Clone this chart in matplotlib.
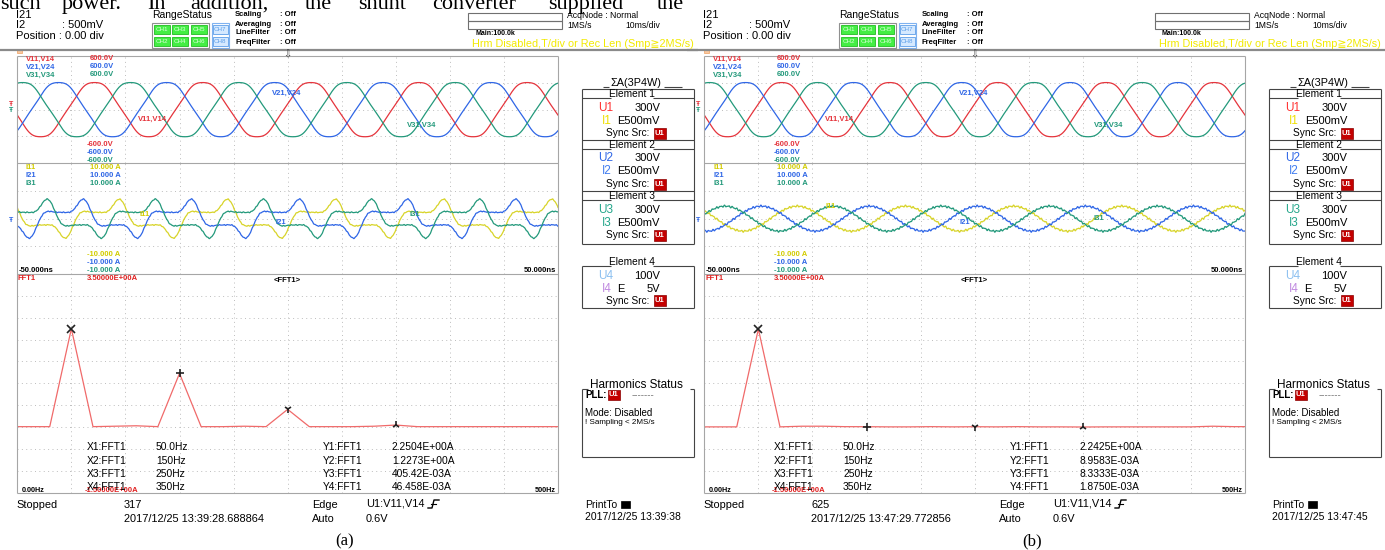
import numpy as np
import matplotlib
matplotlib.use("Agg")
import matplotlib.pyplot as plt
from matplotlib.patches import Rectangle

W, H = 1385, 550
DX = 687  # screenshot (b) sits 687 px right of (a)

# -----------------------------
# data
# -----------------------------
caption = ["(a)", "(b)"]
record_no = ["317", "625"]
stamp = ["2017/12/25 13:39:28.688864", "2017/12/25 13:47:29.772856"]
print_stamp = ["2017/12/25 13:39:38", "2017/12/25 13:47:45"]

# FFT1 cursors
cursor_freq = [50, 150, 250, 350]
cursor_freq_lbl = ["50.0Hz", "150Hz", "250Hz", "350Hz"]
cursor_amp = [[2.2504, 1.2273, 0.40542, 0.046458],
              [2.2425, 8.9583e-3, 8.3333e-3, 1.8750e-3]]
cursor_lbl = [["2.2504E+00A", "1.2273E+00A", "405.42E-03A", "46.458E-03A"],
              ["2.2425E+00A", "8.9583E-03A", "8.3333E-03A", "1.8750E-03A"]]

# FFT1 trace (A) at the display bins (Hz)
fft_freq = [0, 10, 30, 50, 70, 90, 110, 130, 150, 170, 190, 210, 230, 250,
            270, 290, 310, 330, 350, 370, 390, 410, 430, 450, 470, 490, 500]
fft_amp_a = [0.01, 0.01, 0.01, 2.2504, 0.01, 0.02, 0.03, 0.01, 1.2273, 0.01,
             0.01, 0.02, 0.01, 0.40542, 0.01, 0.01, 0.01, 0.02, 0.046458,
             0.01, 0.01, 0.01, 0.01, 0.01, 0.01, 0.01, 0.01]
fft_amp_b = [0.005, 0.005, 0.005, 2.2425, 0.005, 0.02, 0.02, 0.01, 0.009,
             0.005, 0.005, 0.01, 0.005, 0.0083, 0.005, 0.01, 0.005, 0.005,
             0.0019, 0.005, 0.005, 0.005, 0.005, 0.005, 0.02, 0.01, 0.01]
fft_amp = [fft_amp_a, fft_amp_b]

# phases 1/2/3 (phase 2 peaks 1/3 cycle earlier, phase 3 later)
v_names = ["V11,V14", "V21,V24", "V31,V34"]
i_names = ["I11", "I21", "I31"]
phase_delay_ms = [0.0, -6.67, 6.67]

# supply voltage: 311 V peak, slightly flat-topped, first V11 crest at -35.7 ms
v_order = [1, 5]
v_amp = [311.0, 8.0]
v_phase_deg = [0, 180]
v1_peak_ms = -35.7

# currents from the FFT1 harmonics (50/150/250/350 Hz); phases from trace shape
i_order = [1, 3, 5, 7]
i_phase_deg = [[36, 4, -11, 0], [0, 0, 0, 0]]
i1_peak_ms = [-31.0, -32.8]
ripple_order = [27, 43]
ripple_amp = [[0.05, 0.04], [0.11, 0.08]]

# in-screen trace labels (x, y) relative to each screenshot
v_lbl_pos = [(138, 119), (272, 93), (407, 125)]
i_lbl_pos = [[(140, 214), (275, 222), (409, 215)],
             [(138, 207), (272, 223), (406, 218)]]

t_ms = np.linspace(-50, 50, 2001)

V_COL = ["#e5343c", "#2f66e6", "#23997b"]
I_COL = ["#d8d42a", "#2f66e6", "#23997b"]
LBL_I = ["#d2cc00", "#2f66e6", "#23997b"]
FFT_COL = "#f06a6a"
GRID = "#bdbdbd"
SANS = ["Liberation Sans", "DejaVu Sans"]
SERIF = ["Liberation Serif", "DejaVu Serif"]


def wave(t, t0, orders, amps, phases):
    th = 2 * np.pi * 0.05 * (t - t0)  # 50 Hz, t in ms
    return sum(a * np.cos(n * th + np.radians(p)) for n, a, p in zip(orders, amps, phases))


fig = plt.figure(figsize=(W / 100, H / 100), dpi=100)
cv = fig.add_axes([0, 0, 1, 1])
cv.set_xlim(0, W)
cv.set_ylim(H, 0)
cv.axis("off")
cv.set_zorder(5)
cv.patch.set_alpha(0)


def txt(x, y, s, size=6, color="black", ha="left", va="center", weight="normal", family=SANS, **kw):
    cv.text(x, y, s, fontsize=size, color=color, ha=ha, va=va, fontweight=weight, family=family, **kw)


def line(x0, y0, x1, y1, c="#a6a6a6", lw=0.8):
    cv.plot([x0, x1], [y0, y1], color=c, lw=lw, solid_capstyle="butt")


def box(x0, y0, x1, y1, ec="#555555", fc="none", lw=0.8):
    cv.add_patch(Rectangle((x0, y0), x1 - x0, y1 - y0, ec=ec, fc=fc, lw=lw))


def inset(x0, y0, x1, y1):
    ax = fig.add_axes([x0 / W, 1 - y1 / H, (x1 - x0) / W, (y1 - y0) / H])
    ax.set_facecolor("none")
    for s in ax.spines.values():
        s.set_visible(False)
    ax.set_xticks([])
    ax.set_yticks([])
    return ax


def dot_grid(ax, xs, ys):
    for x in xs:
        ax.axvline(x, color=GRID, lw=0.7, ls=(0, (1, 3.5)))
    for y in ys:
        ax.axhline(y, color=GRID, lw=0.7, ls=(0, (1, 3.5)))


# cropped line of the paper above the figure
words = ["such", "power.", "In", "addition,", "the", "shunt", "converter", "supplied", "the"]
word_x = [0, 62, 147, 190, 305, 358, 432, 548, 657]
for w, x in zip(words, word_x):
    txt(x, 9, w, 16, va="baseline", family=SERIF)


def element_title(ox, yc, s):
    txt(ox + 632, yc, s, 7.3, ha="center")
    line(ox + 581.7, yc + 4, ox + 611, yc + 4, c="#444444")
    line(ox + 653, yc + 4, ox + 694, yc + 4, c="#444444")


def sync_row(ox, y):
    txt(ox + 606, y, "Sync Src:", 7.3)
    box(ox + 653.5, y - 5.5, ox + 666, y + 5.5, ec="#8a0000", fc="#c40000", lw=0.5)
    txt(ox + 659.7, y, "U1", 5.5, color="white", ha="center", weight="bold")


def draw_screen(k):
    ox = k * DX
    L, R, TOP, S1, S2, BOT = ox + 17.3, ox + 558, 56, 163.3, 274, 492.7

    # ---- header ----
    txt(ox + 16, 14.5, "I21", 8)
    txt(ox + 16, 25, "I2", 8)
    txt(ox + 62, 25, ": 500mV", 8)
    txt(ox + 16, 36, "Position : 0.00 div", 8)
    txt(ox + 152, 15, "RangeStatus", 7.5)
    box(ox + 151.5, 22.5, ox + 209, 48, ec="#909090")
    for j, ch in enumerate(["CH1", "CH3", "CH5", "CH2", "CH4", "CH6"]):
        cx = ox + 153.5 + (j % 3) * 18.5
        cy = 25 + (j // 3) * 12
        box(cx, cy, cx + 16, cy + 9, ec="#22bb22", fc="#44ee44", lw=0.6)
        txt(cx + 8, cy + 4.5, ch, 4.5, color="#dcffdc", ha="center")
    box(ox + 211.5, 22.5, ox + 229, 48, ec="#7fb2f0")
    for j, ch in enumerate(["CH7", "CH8"]):
        cy = 25 + j * 12
        box(ox + 213, cy, ox + 227.5, cy + 9, ec="#5c9ee8", fc="#d5e9ff", lw=0.6)
        txt(ox + 220.2, cy + 4.5, ch, 4.5, color="#5c9ee8", ha="center")
    for j, s in enumerate(["Scaling", "Averaging", "LineFilter", "FreqFilter"]):
        txt(ox + 235, 15 + 9 * j, s, 5.5, weight="bold")
        txt(ox + 280, 15 + 9 * j, ": Off", 5.5, weight="bold")
    box(ox + 468, 12.5, ox + 562, 20.5, ec="#707070")
    box(ox + 468, 20.5, ox + 562, 28.5, ec="#707070")
    txt(ox + 475, 33.5, "Main:100.0k", 5, weight="bold")
    txt(ox + 567, 15, "AcqNode : Normal", 6.2)
    txt(ox + 567, 26, "1MS/s", 6.2)
    txt(ox + 625, 26, "10ms/div", 6.2)
    txt(ox + 472, 44, "Hrm Disabled,T/div or Rec Len (Smp\u22672MS/s)", 7.8, color="#f2ea00")
    line(ox + 0, 50, ox + 698, 50, c="#8a8a8a", lw=1.6)
    box(ox + 17, 48.5, ox + 21.5, 53, ec="#f0a060", fc="#f8c8a0", lw=0.5)
    txt(ox + 287.5, 54, "\u21e9", 7, color="#444444", ha="center", family=["DejaVu Sans"])

    # ---- screen frame ----
    for a, b, c, d in [(L, TOP, R, TOP), (L, TOP, L, BOT), (R, TOP, R, BOT),
                       (L, BOT, R, BOT), (L, S1, R, S1), (L, S2, R, S2)]:
        line(a, b, c, d)

    # ---- voltage window ----
    axv = inset(L, TOP, R, S1)
    axv.set_xlim(-50, 50)
    axv.set_ylim(-600, 600)
    dot_grid(axv, range(-40, 50, 10), [-300, 0, 300])
    for p in range(3):
        axv.plot(t_ms, wave(t_ms, v1_peak_ms + phase_delay_ms[p], v_order, v_amp, v_phase_deg),
                 color=V_COL[p], lw=0.9)

    # ---- current window ----
    axi = inset(L, S1, R, S2)
    axi.set_xlim(-50, 50)
    axi.set_ylim(-10, 10)
    dot_grid(axi, range(-40, 50, 10), [-5, 0, 5])
    for p in range(3):
        t0 = i1_peak_ms[k] + phase_delay_ms[p]
        i = wave(t_ms, t0, i_order, cursor_amp[k], i_phase_deg[k])
        i = i + wave(t_ms, t0, ripple_order, ripple_amp[k], [30 * p, 60 * p])
        axi.plot(t_ms, i, color=I_COL[p], lw=0.9)

    # ---- FFT window ----
    axf = inset(L, S2, R, BOT)
    axf.set_xlim(0, 500)
    axf.set_ylim(-1.5, 3.5)
    dot_grid(axf, range(50, 500, 50), np.arange(-1.0, 3.5, 0.5))
    axf.plot(fft_freq, fft_amp[k], color=FFT_COL, lw=0.9)
    for f, a, m in zip(cursor_freq, cursor_amp[k], ["x", "+", "1", "2"]):
        axf.plot(f, a, marker=m, color="#222222", ms=6, mew=1.2, ls="none")

    # ---- screen texts ----
    for p in range(3):
        txt(ox + 26, 59 + 8 * p, v_names[p], 5.5, color=V_COL[p], weight="bold")
        txt(ox + 90, 59 + 8 * p, "600.0V", 5.5, color=V_COL[p], weight="bold")
        txt(ox + 87, 144.5 + 8 * p, "-600.0V", 5.5, color=V_COL[p], weight="bold")
        txt(ox + 26, 167.5 + 8 * p, i_names[p], 5.5, color=LBL_I[p], weight="bold")
        txt(ox + 90, 167.5 + 8 * p, "10.000 A", 5.5, color=LBL_I[p], weight="bold")
        txt(ox + 87, 255 + 8 * p, "-10.000 A", 5.5, color=LBL_I[p], weight="bold")
        vx, vy = v_lbl_pos[p]
        txt(ox + vx, vy, v_names[p], 5.5, color=V_COL[p], weight="bold")
        ix, iy = i_lbl_pos[k][p]
        txt(ox + ix, iy, i_names[p], 5.5, color=LBL_I[p], weight="bold")
    txt(ox + 9, 104, "\u0166", 5, color=V_COL[0], weight="bold")
    txt(ox + 9, 110, "\u0166", 5, color=V_COL[2], weight="bold")
    txt(ox + 9, 220, "\u0166", 5, color=I_COL[1], weight="bold")
    txt(ox + 19, 271, "-50.000ns", 5.5, weight="bold")
    txt(ox + 556, 271, "50.000ns", 5.5, weight="bold", ha="right")
    txt(ox + 18, 279, "FFT1", 5.5, color="#e02020", weight="bold")
    txt(ox + 87, 279, "3.50000E+00A", 5.5, color="#e02020", weight="bold")
    txt(ox + 287, 281, "<FFT1>", 5.5, ha="center", weight="bold")
    txt(ox + 22, 490, "0.00Hz", 5.2, weight="bold")
    txt(ox + 556, 490, "500Hz", 5.2, weight="bold", ha="right")
    txt(ox + 85, 491, "-1.50000E+00A", 5.5, color="#e02020", weight="bold")
    for j in range(4):
        y = [446.7, 460.5, 474, 487.5][j]
        txt(ox + 87, y, f"X{j + 1}:FFT1", 7.4)
        txt(ox + 156, y, cursor_freq_lbl[j], 7.4)
        txt(ox + 322.7, y, f"Y{j + 1}:FFT1", 7.4)
        txt(ox + 392, y, cursor_lbl[k][j], 7.4)

    # ---- status line ----
    txt(ox + 16, 505, "Stopped", 7.9)
    txt(ox + 124, 505, record_no[k], 7.9)
    txt(ox + 124, 518.5, stamp[k], 7.9)
    txt(ox + 312, 505, "Edge", 7.9)
    txt(ox + 312, 518.5, "Auto", 7.9)
    txt(ox + 366, 504, "U1:V11,V14", 7.9)
    txt(ox + 366, 518.5, "0.6V", 7.9)
    cv.plot([ox + 428, ox + 432, ox + 434, ox + 439], [508, 508, 500, 500], color="black", lw=1)
    cv.plot([ox + 430.5, ox + 435.5], [504, 504], color="black", lw=0.8)
    txt(ox + 345, 541, caption[k], 12, ha="center", family=SERIF)

    # ---- element panel ----
    bx0, bx1 = ox + 581.7, ox + 694
    dk = "#444444"
    txt(ox + 636, 82.5, "\u03a3A(3P4W)", 7.8, ha="center")
    line(ox + 603, 87, ox + 609, 87, c=dk)
    line(ox + 664, 87, ox + 682, 87, c=dk)
    line(bx0, 89.3, bx1, 89.3, c=dk)
    line(bx0, 89.3, bx0, 244, c=dk)
    line(bx1, 89.3, bx1, 244, c=dk)
    line(bx0, 244, bx1, 244, c=dk)
    u_col = ["#ff3030", "#2f66e6", "#23a68a"]
    i_col = ["#f0e000", "#3f7cf0", "#23a68a"]
    for e, y in enumerate([89.3, 140.0, 191.3]):
        if e:
            line(bx0, y, bx1, y, c=dk)
        element_title(ox, y + 5, f"Element {e + 1}")
        txt(ox + 598, y + 18.4, f"U{e + 1}", 8.5, color=u_col[e])
        txt(ox + 660, y + 18.4, "300V", 8, ha="right")
        txt(ox + 601.5, y + 31.4, f"I{e + 1}", 8.5, color=i_col[e])
        txt(ox + 660, y + 31.4, "E500mV", 8, ha="right")
        sync_row(ox, y + 44)
    element_title(ox, 261.7, "Element 4")
    line(bx0, 265.7, bx0, 308.3, c=dk)
    line(bx1, 265.7, bx1, 308.3, c=dk)
    line(bx0, 308.3, bx1, 308.3, c=dk)
    txt(ox + 598, 276, "U4", 8.5, color="#8cc0f0")
    txt(ox + 660, 276, "100V", 8, ha="right")
    txt(ox + 601.5, 289.3, "I4", 8.5, color="#c08ae0")
    txt(ox + 617, 289.3, "E", 8)
    txt(ox + 660, 289.3, "5V", 8, ha="right")
    sync_row(ox, 300.7)

    # ---- harmonics status ----
    txt(ox + 636, 384.5, "Harmonics Status", 8.5, ha="center")
    line(bx0, 389.3, ox + 588, 389.3, c=dk)
    line(ox + 690, 389.3, bx1, 389.3, c=dk)
    line(bx0, 389.3, bx0, 456.7, c=dk)
    line(bx1, 389.3, bx1, 456.7, c=dk)
    line(bx0, 456.7, bx1, 456.7, c=dk)
    txt(ox + 585, 395, "PLL:", 7, weight="bold")
    box(ox + 607.5, 390, ox + 620, 400, ec="#8a0000", fc="#c40000", lw=0.5)
    txt(ox + 613.7, 395, "U1", 5.5, color="white", ha="center", weight="bold")
    txt(ox + 632, 395, "-------", 7, color="#777777")
    txt(ox + 585, 413, "Mode: Disabled", 7)
    txt(ox + 585, 423, "! Sampling < 2MS/s", 5.8)
    txt(ox + 585, 505, "PrintTo", 7.5)
    box(ox + 621, 500.5, ox + 630, 508, ec="black", fc="black", lw=0.5)
    txt(ox + 585, 517.5, print_stamp[k], 7.5)


for k in range(2):
    draw_screen(k)

fig.savefig("out.png", dpi=100)
